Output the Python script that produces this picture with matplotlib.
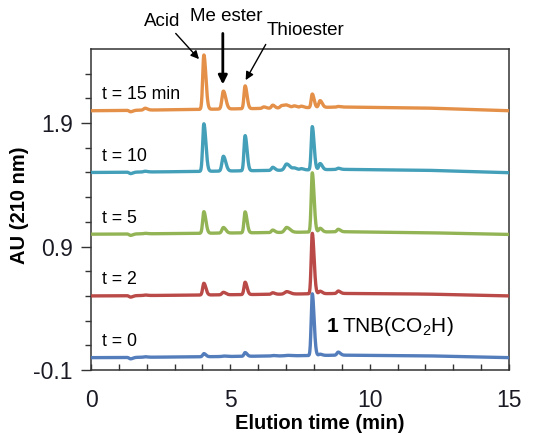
import numpy as np
import matplotlib
matplotlib.use("Agg")
import matplotlib.pyplot as plt
from matplotlib.ticker import MultipleLocator, FixedLocator

plt.rcParams['font.family'] = ['Liberation Sans', 'DejaVu Sans']
plt.rcParams['mathtext.fontset'] = 'custom'
plt.rcParams['mathtext.rm'] = 'Liberation Sans'
plt.rcParams['mathtext.bf'] = 'Liberation Sans:bold'

# --- chromatogram data -------------------------------------------------
trace_labels = ["t = 0", "t = 2", "t = 5", "t = 10", "t = 15 min"]
trace_offsets = [0.0, 0.5, 1.0, 1.5, 2.0]
trace_colors = ["#4a76b8", "#b5403d", "#8db04c", "#3a9ab6", "#e38a3e"]

# retention times (min) of the features in each run
peak_times = [1.42, 1.94, 4.05, 4.75, 5.53, 6.20, 6.52, 6.85, 7.02, 7.30, 7.55, 7.94, 8.22, 8.87]
peak_widths = [0.05, 0.05, 0.042, 0.05, 0.04, 0.05, 0.045, 0.06, 0.07, 0.06, 0.05, 0.038, 0.045, 0.045]

# peak heights (AU) per run, same order as peak_times
heights_t0 = [-0.012, 0.004, 0.025, 0.004, 0.030, 0.0, 0.004, 0.0, 0.004, 0.0, 0.0, 0.500, 0.010, 0.025]
heights_t2 = [-0.012, 0.004, 0.095, 0.020, 0.100, 0.0, 0.012, 0.0, 0.020, 0.0, 0.0, 0.490, 0.020, 0.020]
heights_t5 = [-0.012, 0.004, 0.175, 0.045, 0.170, 0.0, 0.020, 0.0, 0.040, 0.0, 0.0, 0.480, 0.030, 0.020]
heights_t10 = [-0.012, 0.006, 0.385, 0.120, 0.285, 0.0, 0.025, 0.0, 0.050, 0.015, 0.010, 0.350, 0.050, 0.010]
heights_t15 = [-0.012, 0.015, 0.440, 0.145, 0.185, 0.012, 0.025, 0.020, 0.020, 0.015, 0.012, 0.110, 0.055, 0.005]
trace_heights = [heights_t0, heights_t2, heights_t5, heights_t10, heights_t15]

# slow baseline drift (AU) read at these times
drift_times = [0, 3, 6, 9, 12, 15]
drift_t0 = [0.0, 0.005, 0.012, 0.020, 0.015, 0.0]
drift_t2 = [0.0, 0.005, 0.012, 0.020, 0.015, 0.0]
drift_t5 = [0.0, 0.005, 0.012, 0.020, 0.012, -0.002]
drift_t10 = [0.0, 0.006, 0.015, 0.025, 0.018, -0.002]
drift_t15 = [0.0, 0.008, 0.018, 0.030, 0.022, 0.0]
trace_drift = [drift_t0, drift_t2, drift_t5, drift_t10, drift_t15]

# --- build traces --------------------------------------------------------
t = np.linspace(0, 15, 3000)


def peak_shape(x, center, height, width):
    # tailing peak: wider decay on the late side
    sig = np.where(x < center, width, width * 1.7)
    return height * np.exp(-0.5 * ((x - center) / sig) ** 2)


fig = plt.figure(figsize=(5.43, 4.34), dpi=100)
ax = fig.add_axes([0.1676, 0.1475, 0.7698, 0.7396])

for label, off, col, hts, dr in zip(trace_labels, trace_offsets, trace_colors,
                                    trace_heights, trace_drift):
    y = off + np.interp(t, drift_times, dr)
    for c, h, w in zip(peak_times, hts, peak_widths):
        y = y + peak_shape(t, c, h, w)
    ax.plot(t, y, color=col, lw=2.4, alpha=0.95, solid_capstyle='round', zorder=3)
    ax.text(0.39, off + 0.13, label, fontsize=12.8, ha='left', va='center', color='black')

ax.set_xlim(0, 15)
ax.set_ylim(-0.1, 2.5)

ax.xaxis.set_major_locator(FixedLocator([0, 5, 10, 15]))
ax.xaxis.set_minor_locator(MultipleLocator(1))
ax.yaxis.set_major_locator(FixedLocator([-0.1, 0.9, 1.9]))
ax.yaxis.set_minor_locator(FixedLocator(np.arange(0.1, 2.45, 0.2)))
ax.set_yticklabels(["-0.1", "0.9", "1.9"])

label_color = "#1a1a24"
ax.tick_params(axis='x', which='both', direction='in', length=4, width=1,
               labelsize=16.5, pad=14, colors='#333333', labelcolor=label_color)
ax.tick_params(axis='y', which='major', direction='out', length=7, width=1,
               labelsize=16.5, pad=6, colors='#333333', labelcolor=label_color)
ax.tick_params(axis='y', which='minor', direction='out', length=4.5, width=1,
               colors='#333333')
for s in ax.spines.values():
    s.set_color('#333333')
    s.set_linewidth(1.1)

ax.set_xlabel("Elution time (min)", fontsize=14.5, fontweight='bold')
ax.xaxis.set_label_coords(0.548, -0.136)
ax.set_ylabel("AU (210 nm)", fontsize=14.5, fontweight='bold')
ax.yaxis.set_label_coords(-0.148, 0.514)

# peak identification arrows
arrow_kw = dict(arrowstyle='-|>', color='black', shrinkA=0, shrinkB=0)
ax.annotate('', xy=(3.875, 2.418), xytext=(3.04, 2.626), annotation_clip=False,
            arrowprops=dict(lw=1.0, mutation_scale=12, **arrow_kw))
ax.annotate('', xy=(4.73, 2.213), xytext=(4.73, 2.626), annotation_clip=False,
            arrowprops=dict(lw=2.0, mutation_scale=13, **arrow_kw))
ax.annotate('', xy=(5.55, 2.248), xytext=(6.27, 2.537), annotation_clip=False,
            arrowprops=dict(lw=1.0, mutation_scale=12, **arrow_kw))
ax.text(2.55, 2.72, "Acid", fontsize=13.5, ha='center', va='center', clip_on=False)
ax.text(4.84, 2.766, "Me ester", fontsize=13.5, ha='center', va='center', clip_on=False)
ax.text(7.68, 2.653, "Thioester", fontsize=13.5, ha='center', va='center', clip_on=False)

ax.text(8.45, 0.251, "1", fontsize=15, fontweight='bold', ha='left', va='center')
ax.text(9.0, 0.251, r"TNB(CO$_2$H)", fontsize=15, ha='left', va='center')

fig.savefig("out.png", dpi=100)
